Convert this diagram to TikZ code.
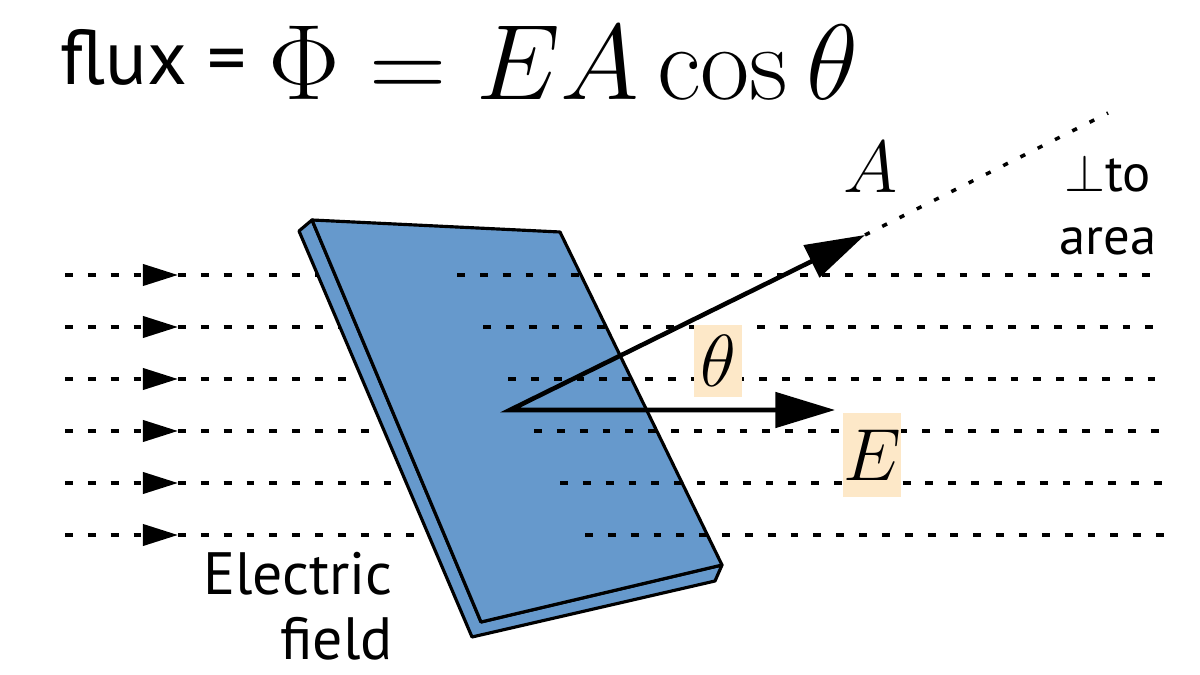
\RequirePackage{fix-cm}
\documentclass[tikz,border=0pt]{standalone}
\usepackage{fontspec}
\setsansfont{PT Sans}
\usetikzlibrary{arrows.meta}
\definecolor{plateblue}{RGB}{102,153,204}
\definecolor{labelbeige}{RGB}{253,232,200}

\begin{document}
\begin{tikzpicture}[x=0.02cm, y=-0.02cm,
    fieldline/.style={line width=2.2pt, dash pattern=on 4.5pt off 8.5pt},
    fieldtip/.style={-{Triangle[length=20pt, width=12pt]}},
    plate/.style={fill=plateblue, draw=black, line width=1.8pt, line join=round},
    vec/.style={line width=2.6pt, line join=miter,
        {Triangle[length=34pt, width=20pt]}-{Triangle[length=34pt, width=20pt]}},
    perpline/.style={line width=2pt, dash pattern=on 3pt off 8pt},
    sidetext/.style={font=\sffamily\fontsize{34}{40}\selectfont, inner sep=0pt},
    mathlabel/.style={font=\fontsize{42}{48}\selectfont, inner sep=0pt}]

    \useasboundingbox (0,0) rectangle (1200,675);

    % formula
    \node[anchor=base west, inner sep=0pt, font=\sffamily\fontsize{44}{50}\selectfont] (fluxword) at (60,85) {flux =};
    \node[anchor=base west, inner sep=0pt, font=\fontsize{61}{66}\selectfont] (fluxformula) at (268,100) {$\Phi = EA\cos\theta$};

    % field lines, left of the plate
    \draw[fieldline, fieldtip] (65,275) -- (178,275);
    \draw[fieldline, fieldtip] (65,327) -- (178,327);
    \draw[fieldline, fieldtip] (65,379) -- (178,379);
    \draw[fieldline, fieldtip] (65,431) -- (178,431);
    \draw[fieldline, fieldtip] (65,483) -- (178,483);
    \draw[fieldline, fieldtip] (65,535) -- (178,535);
    \draw[fieldline] (178,275) -- (450,275);
    \draw[fieldline] (178,327) -- (450,327);
    \draw[fieldline] (178,379) -- (450,379);
    \draw[fieldline] (178,431) -- (450,431);
    \draw[fieldline] (178,483) -- (450,483);
    \draw[fieldline] (178,535) -- (450,535);

    % plate
    \coordinate (TL) at (312,220);
    \coordinate (TR) at (560,232);
    \coordinate (BR) at (722,565);
    \coordinate (BL) at (481,622);
    \coordinate (TLb) at (299,231);
    \coordinate (BLb) at (472,637);
    \coordinate (BRb) at (715,581);
    \filldraw[plate] (TL) -- (TLb) -- (BLb) -- (BRb) -- (BR) -- (BL) -- cycle;
    \filldraw[plate] (TL) -- (TR) -- (BR) -- (BL) -- cycle;

    % field lines, coming out of the plate
    \draw[fieldline] (457,275) -- (1165,275);
    \draw[fieldline] (483,327) -- (1165,327);
    \draw[fieldline] (508,379) -- (1165,379);
    \draw[fieldline] (534,431) -- (1165,431);
    \draw[fieldline] (560,483) -- (1165,483);
    \draw[fieldline] (585,535) -- (1165,535);

    % vectors
    \coordinate (O) at (510,410);
    \coordinate (Atip) at (865,235);
    \coordinate (Etip) at (835,410);
    \coordinate (Aend) at (1108,113);
    \draw[vec] (Atip) -- (O) -- (Etip);
    \draw[perpline] (Atip) -- (Aend);

    % labels
    \node[mathlabel, anchor=base] (Alabel) at (871,193) {$A$};
    \node[mathlabel, fill=labelbeige, minimum width=27pt, minimum height=41pt] (thetalabel) at (718,361) {$\theta$};
    \node[mathlabel, fill=labelbeige, minimum width=32pt, minimum height=48pt] (Elabel) at (872,455) {$E$};
    \node[sidetext, anchor=base west, font=\sffamily\fontsize{30}{36}\selectfont] (perplabel) at (1064,192) {$\perp$to};
    \node[sidetext, anchor=base west, font=\sffamily\fontsize{30}{36}\selectfont] (arealabel) at (1059,255) {area};
    \node[sidetext, anchor=base east] (electriclabel) at (393,594) {Electric};
    \node[sidetext, anchor=base east] (fieldlabel) at (393,659) {field};
\end{tikzpicture}
\end{document}
